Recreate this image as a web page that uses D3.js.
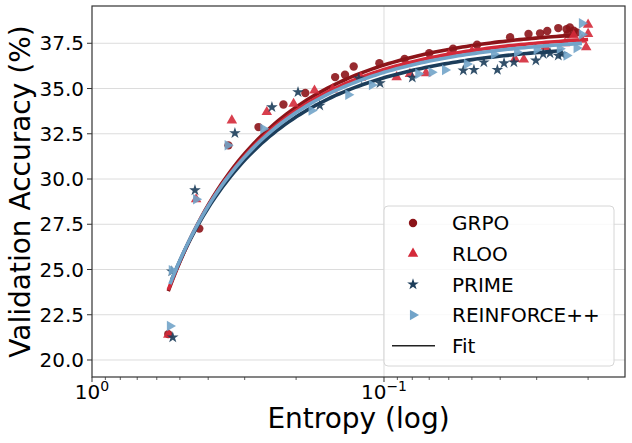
<!DOCTYPE html>
<html>
<head>
<meta charset="utf-8">
<script src="https://cdn.jsdelivr.net/npm/d3@7"></script>
<style>
  body { margin: 0; background: #fff; }
  text { font-family: "DejaVu Sans", sans-serif; fill: #000; }
</style>
</head>
<body>
<script>
// entropy / accuracy pairs
var grpoH   = [0.548, 0.429, 0.341, 0.269, 0.221, 0.186, 0.147, 0.136, 0.127, 0.1037, 0.085, 0.070, 0.058, 0.048, 0.037, 0.032, 0.0292, 0.0276, 0.0253, 0.0237, 0.0231, 0.0224, 0.0219, 0.0235];
var grpoAcc = [21.43, 27.26, 31.86, 32.87, 34.12, 34.75, 35.63, 35.76, 36.22, 36.40, 36.63, 36.95, 37.20, 37.42, 37.83, 38.01, 38.05, 38.18, 38.34, 38.28, 38.38, 38.20, 38.10, 38.00];

var rlooH   = [0.548, 0.440, 0.332, 0.252, 0.204, 0.173, 0.150, 0.120, 0.0905, 0.0815, 0.0718, 0.060, 0.050, 0.0356, 0.0332, 0.028, 0.024, 0.0224, 0.0200, 0.0200, 0.0203, 0.0210];
var rlooAcc = [21.40, 28.88, 33.24, 33.70, 34.16, 34.89, 34.95, 35.60, 35.63, 35.81, 35.85, 36.85, 37.05, 36.64, 36.60, 37.30, 37.50, 37.93, 38.53, 38.02, 37.28, 37.70];

var primeH   = [0.529, 0.533, 0.444, 0.324, 0.242, 0.197, 0.166, 0.122, 0.1032, 0.080, 0.0535, 0.0492, 0.0455, 0.0409, 0.0388, 0.0359, 0.0302, 0.0285, 0.0270, 0.0253, 0.0246];
var primeAcc = [21.25, 24.90, 29.38, 32.54, 33.97, 34.80, 34.06, 35.56, 35.30, 35.60, 36.00, 36.03, 36.45, 36.03, 36.40, 36.45, 36.55, 36.91, 36.95, 36.82, 36.91];

var reinfH   = [0.541, 0.533, 0.440, 0.343, 0.259, 0.177, 0.1325, 0.110, 0.0763, 0.0687, 0.0618, 0.052, 0.042, 0.035, 0.030, 0.0237, 0.0219, 0.0210, 0.0210, 0.025];
var reinfAcc = [21.88, 24.96, 28.88, 31.86, 32.78, 33.79, 34.65, 35.20, 35.81, 35.90, 36.03, 36.36, 36.90, 37.00, 37.15, 36.82, 37.24, 37.98, 38.60, 37.20];

// fit: acc = b - a * exp(H)
var seriesNames = ["GRPO", "RLOO", "PRIME", "REINFORCE++"];
var seriesColors = ["#8c1419", "#d42a3a", "#1c3d5a", "#72a4c9"];
var fitA = [20.0, 19.5, 18.6, 19.1];
var fitB = [58.4, 57.6, 56.15, 57.0];

var yTicks = [20, 22.5, 25, 27.5, 30, 32.5, 35, 37.5];
var xMajor = [1, 0.1];
var xMajorExp = ["0", "\u22121"];

var width = 632, height = 443;
var mLeft = 92, mRight = 625, mTop = 6, mBottom = 377;

var svg = d3.select("body").append("svg")
    .attr("width", width)
    .attr("height", height);

var x = d3.scaleLog().domain([1, 0.01495]).range([mLeft, mRight]);
var y = d3.scaleLinear().domain([19.06, 39.56]).range([mBottom, mTop]);

//grid
svg.append("g").selectAll("line")
    .data(yTicks).enter().append("line")
    .attr("x1", mLeft).attr("x2", mRight)
    .attr("y1", function(d){ return y(d); })
    .attr("y2", function(d){ return y(d); })
    .attr("stroke", "#dcdcdc").attr("stroke-width", 1);
svg.append("line")
    .attr("x1", x(0.1)).attr("x2", x(0.1))
    .attr("y1", mTop).attr("y2", mBottom)
    .attr("stroke", "#dcdcdc").attr("stroke-width", 1);

var symbols = [
    d3.symbol().type(d3.symbolCircle).size(55),
    d3.symbol().type(d3.symbolTriangle).size(48),
    d3.symbol().type(d3.symbolStar).size(42),
    d3.symbol().type(d3.symbolTriangle).size(48)
];
var rotations = [0, 0, 0, 90];

var allH = [grpoH, rlooH, primeH, reinfH];
var allAcc = [grpoAcc, rlooAcc, primeAcc, reinfAcc];

var line = d3.line()
    .x(function(d){ return x(d[0]); })
    .y(function(d){ return y(d[1]); });

var plot = svg.append("g");

seriesNames.forEach(function(name, i){
    var pts = allH[i].map(function(h, j){ return [h, allAcc[i][j]]; });

    plot.append("g").selectAll("path")
        .data(pts).enter().append("path")
        .attr("d", symbols[i])
        .attr("transform", function(d){
            return "translate(" + x(d[0]) + "," + y(d[1]) + ") rotate(" + rotations[i] + ")";
        })
        .attr("fill", seriesColors[i])
        .attr("opacity", 0.9);

    var ext = d3.extent(allH[i]);
    var lo = Math.log10(ext[0]), hi = Math.log10(ext[1]);
    var fit = d3.range(0, 101).map(function(k){
        var h = Math.pow(10, lo + (hi - lo) * k / 100);
        return [h, fitB[i] - fitA[i] * Math.exp(h)];
    });
    plot.append("path")
        .datum(fit)
        .attr("d", line)
        .attr("fill", "none")
        .attr("stroke", seriesColors[i])
        .attr("stroke-width", 3.6);
});

//axes frame
svg.append("rect")
    .attr("x", mLeft).attr("y", mTop)
    .attr("width", mRight - mLeft).attr("height", mBottom - mTop)
    .attr("fill", "none").attr("stroke", "#333").attr("stroke-width", 1.2);

//y ticks
var yt = svg.append("g");
yTicks.forEach(function(t){
    yt.append("line")
        .attr("x1", mLeft - 5).attr("x2", mLeft)
        .attr("y1", y(t)).attr("y2", y(t))
        .attr("stroke", "#333");
    yt.append("text")
        .attr("x", mLeft - 8).attr("y", y(t))
        .attr("dy", "0.36em")
        .attr("text-anchor", "end")
        .attr("font-size", 20)
        .text(d3.format(".1f")(t));
});

//x ticks, major and minor
var minor = [];
[1, 0.1].forEach(function(dec){
    for (var m = 2; m <= 9; m++) {
        var v = m * dec / 10;
        if (v > 0.01495) minor.push(v);
    }
});
svg.append("g").selectAll("line")
    .data(minor).enter().append("line")
    .attr("x1", function(d){ return x(d); })
    .attr("x2", function(d){ return x(d); })
    .attr("y1", mBottom).attr("y2", mBottom + 3)
    .attr("stroke", "#333").attr("stroke-width", 0.8);

xMajor.forEach(function(v, i){
    svg.append("line")
        .attr("x1", x(v)).attr("x2", x(v))
        .attr("y1", mBottom).attr("y2", mBottom + 5)
        .attr("stroke", "#333");
    var t = svg.append("text")
        .attr("x", x(v)).attr("y", mBottom + 22)
        .attr("text-anchor", "middle")
        .attr("font-size", 20);
    t.append("tspan").text("10");
    t.append("tspan").attr("dy", -8).attr("font-size", 14).text(xMajorExp[i]);
});

//axis labels
svg.append("text")
    .attr("x", (mLeft + mRight) / 2).attr("y", 428)
    .attr("text-anchor", "middle")
    .attr("font-size", 28)
    .text("Entropy (log)");
svg.append("text")
    .attr("transform", "translate(30," + ((mTop + mBottom) / 2) + ") rotate(-90)")
    .attr("text-anchor", "middle")
    .attr("font-size", 28)
    .text("Validation Accuracy (%)");

//legend
var lg = svg.append("g").attr("transform", "translate(384,206)");
lg.append("rect")
    .attr("width", 230).attr("height", 160)
    .attr("rx", 4)
    .attr("fill", "#fff").attr("fill-opacity", 0.8)
    .attr("stroke", "#d6d6d6");

seriesNames.forEach(function(name, i){
    var ry = 17 + i * 30.7;
    lg.append("path")
        .attr("d", symbols[i])
        .attr("transform", "translate(29," + ry + ") rotate(" + rotations[i] + ")")
        .attr("fill", seriesColors[i]);
    lg.append("text")
        .attr("x", 68).attr("y", ry)
        .attr("dy", "0.36em")
        .attr("font-size", 20)
        .text(name);
});
var fy = 17 + 4 * 30.7;
lg.append("line")
    .attr("x1", 8).attr("x2", 51)
    .attr("y1", fy).attr("y2", fy)
    .attr("stroke", "#222").attr("stroke-width", 1.5);
lg.append("text")
    .attr("x", 68).attr("y", fy)
    .attr("dy", "0.36em")
    .attr("font-size", 20)
    .text("Fit");
</script>
</body>
</html>
